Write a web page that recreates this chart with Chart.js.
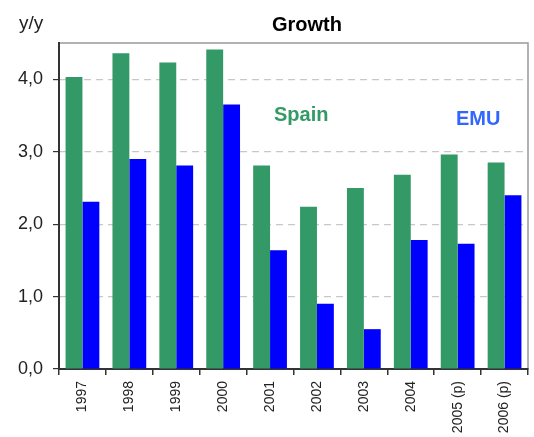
<!DOCTYPE html>
<html lang="en">
<head>
    <meta charset="UTF-8">
    <title>Growth</title>
    <script src="https://cdn.jsdelivr.net/npm/chart.js"></script>
    <style>
        html, body {
            margin: 0;
            padding: 0;
            background: #fff;
        }
        #wrap {
            width: 534px;
            height: 437px;
        }
    </style>
</head>
<body>
    <div id="wrap"><canvas id="growth-chart"></canvas></div>

    <script>
        // Chart data
        const years = ['1997', '1998', '1999', '2000', '2001', '2002', '2003', '2004', '2005 (p)', '2006 (p)'];
        const spain = [4.03, 4.36, 4.23, 4.41, 2.81, 2.24, 2.50, 2.68, 2.96, 2.85];
        const emu = [2.31, 2.90, 2.81, 3.65, 1.64, 0.90, 0.55, 1.78, 1.73, 2.40];
        const yTicks = [0, 1, 2, 3, 4];

        const FONT = '"Liberation Sans", Arial, sans-serif';

        // Frame, title and in-chart labels
        const decorations = {
            id: 'decorations',
            beforeDraw(chart) {
                const { ctx, chartArea: a } = chart;
                ctx.save();
                ctx.strokeStyle = '#999';
                ctx.lineWidth = 1.5;
                ctx.strokeRect(a.left, a.top, a.right - a.left, a.bottom - a.top);
                ctx.restore();
            },
            afterDraw(chart) {
                const { ctx } = chart;
                ctx.save();
                ctx.textBaseline = 'middle';
                ctx.fillStyle = '#222';
                ctx.font = '19px ' + FONT;
                ctx.textAlign = 'left';
                ctx.fillText('y/y', 19, 24);
                ctx.fillStyle = '#000';
                ctx.font = 'bold 20px ' + FONT;
                ctx.textAlign = 'center';
                ctx.fillText('Growth', 307, 25);

                ctx.font = 'bold 20px ' + FONT;
                ctx.textAlign = 'left';
                ctx.fillStyle = '#339966';
                ctx.fillText('Spain', 274, 115);
                ctx.fillStyle = '#3366ff';
                ctx.fillText('EMU', 456, 119);
                ctx.restore();
            }
        };

        new Chart(document.getElementById('growth-chart'), {
            type: 'bar',
            data: {
                labels: years,
                datasets: [
                    {
                        label: 'Spain',
                        data: spain,
                        backgroundColor: '#339966',
                        categoryPercentage: 0.72,
                        barPercentage: 1.0
                    },
                    {
                        label: 'EMU',
                        data: emu,
                        backgroundColor: '#0000ff',
                        categoryPercentage: 0.72,
                        barPercentage: 1.0
                    }
                ]
            },
            options: {
                responsive: true,
                maintainAspectRatio: false,
                animation: false,
                layout: { padding: { top: 43, right: 6, left: 0, bottom: 0 } },
                plugins: {
                    legend: { display: false },
                    title: { display: false },
                    tooltip: { enabled: false }
                },
                scales: {
                    x: {
                        grid: {
                            drawOnChartArea: false,
                            tickLength: 6,
                            tickColor: '#333',
                            lineWidth: 1.5
                        },
                        border: { color: '#333', width: 2 },
                        ticks: {
                            color: '#222',
                            font: { family: FONT, size: 14 },
                            minRotation: 90,
                            maxRotation: 90,
                            padding: 6
                        },
                        afterFit(scale) { scale.height = 68; }
                    },
                    y: {
                        min: 0,
                        max: 4.5,
                        afterBuildTicks(scale) {
                            scale.ticks = yTicks.map(v => ({ value: v }));
                        },
                        grid: {
                            color: ctx => (ctx.tick && ctx.tick.value === 0) ? 'rgba(0,0,0,0)' : '#c8c8c8',
                            lineWidth: 1.2,
                            tickLength: 6,
                            tickColor: '#333',
                            tickBorderDash: []
                        },
                        border: { color: '#333', width: 2, dash: [7, 5] },
                        ticks: {
                            color: '#222',
                            font: { family: FONT, size: 18 },
                            padding: 10,
                            callback: v => v.toFixed(1).replace('.', ',')
                        },
                        afterFit(scale) { scale.width = 59; }
                    }
                }
            },
            plugins: [decorations]
        });
    </script>
</body>
</html>
